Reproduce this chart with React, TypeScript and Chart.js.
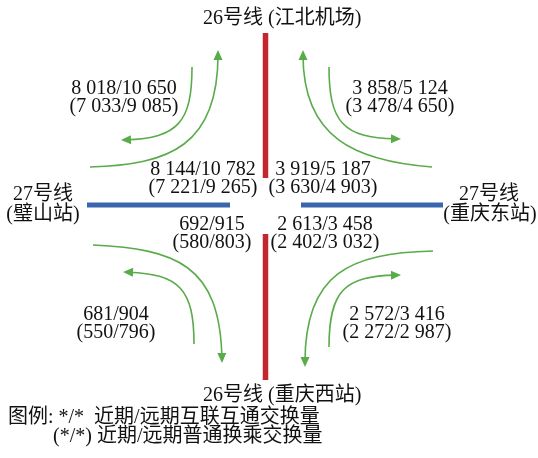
import { useEffect, useRef } from "react";
import { Chart, registerables } from "chart.js";

Chart.register(...registerables);

// ---------- data ----------
// Interchange flows: near-term / long-term interconnection volumes
const nearInterconnect = ["8 018", "3 858", "8 144", "3 919", "692", "2 613", "681", "2 572"];
const farInterconnect = ["10 650", "5 124", "10 782", "5 187", "915", "3 458", "904", "3 416"];
// near-term / long-term ordinary transfer volumes
const nearTransfer = ["7 033", "3 478", "7 221", "3 630", "580", "2 402", "550", "2 272"];
const farTransfer = ["9 085", "4 650", "9 265", "4 903", "803", "3 032", "796", "2 987"];

// Station / line labels
const stationLines = ["26号线", "26号线", "27号线", "27号线"];
const stationNames = ["(江北机场)", "(重庆西站)", "(璧山站)", "(重庆东站)"];
const legendLines = ["图例: */*  近期/远期互联互通交换量", "(*/*) 近期/远期普通换乘交换量"];

// ---------- diagram layout (axis units, 0..538 x 0..458) ----------
const line26Segments = [
  [265.5, 33, 265.5, 178],
  [265.5, 234, 265.5, 380],
];
const line27Segments = [
  [87, 205, 230, 205],
  [301, 205, 443, 205],
];
const flowLabelX = [124, 400, 203, 323, 212, 325, 116, 397];
const flowLabelY = [89, 89, 170, 170, 225, 225, 315, 315];
// cubic curves: start, control1, control2, arrow tip
const flowCurves = [
  [90, 167, 170, 165, 218, 145, 218, 50],
  [192, 67, 192, 122, 178, 138, 121, 140],
  [432, 167, 355, 161, 303, 138, 303, 50],
  [329, 67, 329, 122, 343, 138, 401, 139],
  [93, 245, 175, 249, 220, 264, 222, 363],
  [194, 344, 194, 290, 180, 274, 123, 272],
  [433, 251, 350, 253, 305, 273, 305, 367],
  [329, 347, 329, 290, 345, 276, 401, 275],
];

const RED = "#c1272d";
const BLUE = "#3a66ad";
const GREEN = "#5aab4a";
const FONT = '20px "Liberation Serif", "Noto Sans CJK SC"';

const diagramPlugin = {
  id: "diagram",
  afterDatasetsDraw(chart: any) {
    const ctx = chart.ctx;
    const xs = chart.scales.x;
    const ys = chart.scales.y;
    const px = (v: number) => xs.getPixelForValue(v);
    const py = (v: number) => ys.getPixelForValue(v);
    ctx.save();
    // curves with arrowheads
    ctx.strokeStyle = GREEN;
    ctx.fillStyle = GREEN;
    ctx.lineWidth = 1.6;
    flowCurves.forEach((c) => {
      const [x0, y0, x1, y1, x2, y2, x3, y3] = c;
      const ex = px(x3), ey = py(y3);
      const dx = ex - px(x2), dy = ey - py(y2);
      const len = Math.hypot(dx, dy) || 1;
      const ux = dx / len, uy = dy / len;
      const L = 10, Hw = 4.5;
      ctx.beginPath();
      ctx.moveTo(px(x0), py(y0));
      ctx.bezierCurveTo(px(x1), py(y1), px(x2), py(y2), ex - ux * 5, ey - uy * 5);
      ctx.stroke();
      const bx = ex - ux * L, by = ey - uy * L;
      ctx.beginPath();
      ctx.moveTo(ex, ey);
      ctx.lineTo(bx - uy * Hw, by + ux * Hw);
      ctx.lineTo(bx + uy * Hw, by - ux * Hw);
      ctx.closePath();
      ctx.fill();
    });
    // text
    ctx.fillStyle = "#111";
    ctx.font = FONT;
    ctx.textBaseline = "middle";
    ctx.textAlign = "center";
    for (let i = 0; i < nearInterconnect.length; i++) {
      const x = px(flowLabelX[i]);
      ctx.fillText(`${nearInterconnect[i]}/${farInterconnect[i]}`, x, py(flowLabelY[i]));
      ctx.fillText(`(${nearTransfer[i]}/${farTransfer[i]})`, x, py(flowLabelY[i] + 18));
    }
    ctx.textAlign = "left";
    ctx.fillText(`${stationLines[0]} ${stationNames[0]}`, px(203), py(19));
    ctx.fillText(`${stationLines[1]} ${stationNames[1]}`, px(203), py(396));
    ctx.textAlign = "center";
    ctx.fillText(stationLines[2], px(43), py(195));
    ctx.fillText(stationNames[2], px(43), py(215));
    ctx.fillText(stationLines[3], px(489), py(195));
    ctx.fillText(stationNames[3], px(490), py(215));
    ctx.textAlign = "left";
    ctx.fillText(legendLines[0], px(8), py(418));
    ctx.fillText(legendLines[1], px(53), py(437));
    ctx.restore();
  },
};

export default function App() {
  const ref = useRef<HTMLCanvasElement>(null);
  useEffect(() => {
    if (!ref.current) return;
    const seg = (s: number[], color: string, w: number) => ({
      type: "line" as const,
      data: [
        { x: s[0], y: s[1] },
        { x: s[2], y: s[3] },
      ],
      borderColor: color,
      borderWidth: w,
      borderCapStyle: "butt" as const,
      pointRadius: 0,
      showLine: true,
    });
    const chart = new Chart(ref.current, {
      type: "scatter",
      data: {
        datasets: [
          ...line26Segments.map((s) => seg(s, RED, 5.5)),
          ...line27Segments.map((s) => seg(s, BLUE, 5)),
        ],
      },
      options: {
        animation: false,
        responsive: false,
        layout: { padding: 0 },
        plugins: { legend: { display: false }, tooltip: { enabled: false }, title: { display: false } },
        scales: {
          x: { type: "linear", min: 0, max: 538, display: false },
          y: { type: "linear", min: 0, max: 458, reverse: true, display: false },
        },
        events: [],
      },
      plugins: [diagramPlugin],
    });
    return () => chart.destroy();
  }, []);
  return (
    <div style={{ position: "absolute", left: 0, top: 0, width: 538, height: 458, background: "#fff" }}>
      <canvas ref={ref} width={538} height={458} style={{ display: "block" }} />
    </div>
  );
}
